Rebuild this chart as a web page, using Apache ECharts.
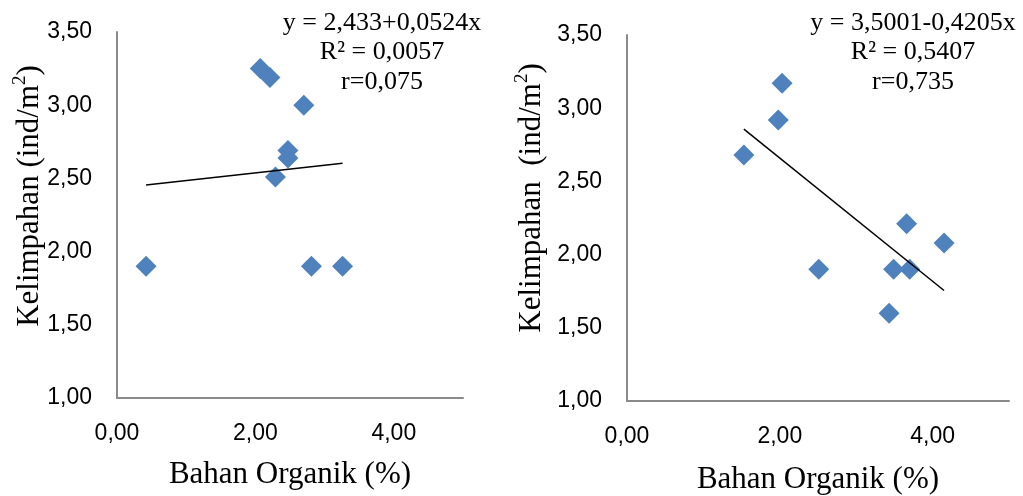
<!DOCTYPE html>
<html>
<head>
<meta charset="utf-8">
<script src="https://cdn.jsdelivr.net/npm/echarts@6/dist/echarts.min.js"></script>
<style>
html,body{margin:0;padding:0;background:#fff;}
#c{width:1023px;height:496px;}
</style>
</head>
<body>
<div id="c"></div>
<script>
// Left chart data
const leftX = [0.42, 2.07, 2.21, 2.70, 2.47, 2.47, 2.29, 2.81, 3.26];
const leftY = [1.90, 3.25, 3.19, 3.00, 2.69, 2.64, 2.51, 1.90, 1.90];
const leftCoef = [2.433, 0.0524];
const leftLabels = ['y = 2,433+0,0524x', 'R² = 0,0057', 'r=0,075'];

// Right chart data
const rightX = [1.53, 1.98, 2.03, 2.51, 3.43, 3.49, 3.66, 3.70, 4.15];
const rightY = [2.68, 2.92, 3.17, 1.90, 1.60, 1.90, 2.21, 1.90, 2.08];
const rightCoef = [3.5001, -0.4205];
const rightLabels = ['y = 3,5001-0,4205x', 'R² = 0,5407', 'r=0,735'];

const xTitle = 'Bahan Organik (%)';
const yTitleLeft = 'Kelimpahan (ind/m';
const yTitleRight = 'Kelimpahan  (ind/m';

function pairs(xs, ys){ return xs.map((x,i)=>[x, ys[i]]); }
function trend(xs, coef){
  const lo = Math.min(...xs), hi = Math.max(...xs);
  return [[lo, coef[0]+coef[1]*lo],[hi, coef[0]+coef[1]*hi]];
}
const fmt = v => v.toFixed(2).replace('.', ',');

const axisLineStyle = {show:true, lineStyle:{color:'#8a8a8a', width:2}};
const labelFont = {color:'#000', fontFamily:'Liberation Sans', fontSize:23};

function xAx(gi){
  return {gridIndex:gi, type:'value', min:0, max:5, interval:2,
    axisLine:axisLineStyle, axisTick:{show:false}, splitLine:{show:false},
    axisLabel:Object.assign({margin:24, formatter:v => (Math.abs(v%2)<1e-9 ? fmt(v) : '')}, labelFont)};
}
function yAx(gi){
  return {gridIndex:gi, type:'value', min:1, max:3.5, interval:0.5,
    axisLine:axisLineStyle, axisTick:{show:false}, splitLine:{show:false},
    axisLabel:Object.assign({margin:25, formatter:fmt}, labelFont)};
}

const serif = 'Liberation Serif';
function annot(cx, texts){
  const ys = [23, 52, 82];
  return texts.map((t,i)=>({type:'text', x:cx, y:ys[i], style:{text:t, fill:'#000',
    font:'26px "Liberation Serif"', align:'center', verticalAlign:'middle'}}));
}
function yTitle(cx, cy, t){
  return {type:'text', x:cx, y:cy, rotation:Math.PI/2,
    style:{text:'{a|'+t+'}{s|2}{a|)}', align:'center', verticalAlign:'middle', fill:'#000',
      rich:{a:{fontFamily:serif, fontSize:31, lineHeight:34, verticalAlign:'bottom', fill:'#000'},
            s:{fontFamily:serif, fontSize:19, lineHeight:34, verticalAlign:'top', fill:'#000', padding:[0,0,0,0]}}}};
}
function xTitleEl(cx, cy){
  return {type:'text', x:cx, y:cy, style:{text:xTitle, fill:'#000', font:'31px "Liberation Serif"', align:'center', verticalAlign:'middle'}};
}

const chart = echarts.init(document.getElementById('c'), null, {renderer:'canvas'});
chart.setOption({
  animation:false,
  backgroundColor:'#fff',
  grid:[
    {left:117, top:32, width:346, height:366},
    {left:627, top:35, width:382, height:366}
  ],
  xAxis:[xAx(0), xAx(1)],
  yAxis:[yAx(0), yAx(1)],
  series:[
    {type:'line', xAxisIndex:0, yAxisIndex:0, data:trend(leftX, leftCoef), symbol:'none',
      lineStyle:{color:'#000', width:1.5}, z:3},
    {type:'scatter', xAxisIndex:0, yAxisIndex:0, data:pairs(leftX, leftY), symbol:'diamond',
      symbolSize:21, itemStyle:{color:'#4f81bd', opacity:1}, z:2},
    {type:'line', xAxisIndex:1, yAxisIndex:1, data:trend(rightX, rightCoef), symbol:'none',
      lineStyle:{color:'#000', width:1.5}, z:3},
    {type:'scatter', xAxisIndex:1, yAxisIndex:1, data:pairs(rightX, rightY), symbol:'diamond',
      symbolSize:21, itemStyle:{color:'#4f81bd', opacity:1}, z:2}
  ],
  graphic:[].concat(
    annot(382, leftLabels),
    annot(913, rightLabels),
    [yTitle(28, 196, yTitleLeft), yTitle(530, 198, yTitleRight),
     xTitleEl(290, 475), xTitleEl(818, 480)]
  )
});
</script>
</body>
</html>
